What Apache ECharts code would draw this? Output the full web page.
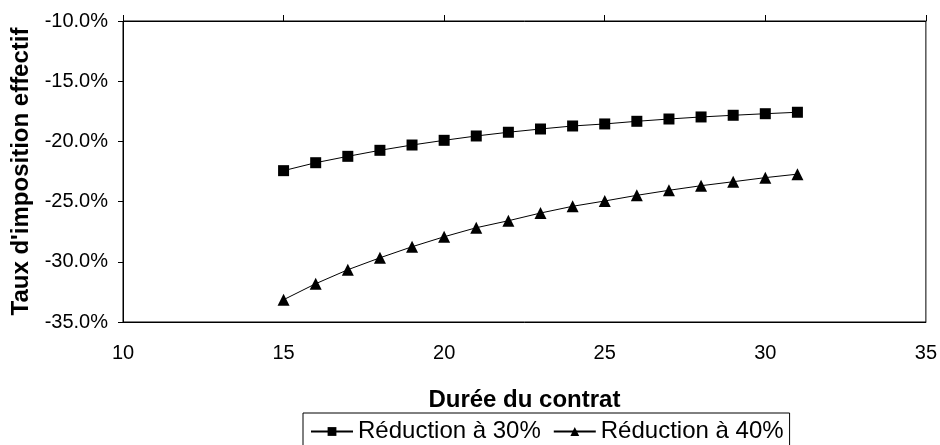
<!DOCTYPE html>
<html>
<head>
<meta charset="utf-8">
<script src="https://cdn.jsdelivr.net/npm/echarts@6/dist/echarts.min.js"></script>
<style>
  html, body { margin: 0; padding: 0; background: #fff; }
  #chart { width: 940px; height: 445px; }
</style>
</head>
<body>
<div id="chart"></div>
<script>
// Contract length (years)
const durees = [15, 16, 17, 18, 19, 20, 21, 22, 23, 24, 25, 26, 27, 28, 29, 30, 31];
// Effective tax rate, in percent
const reduction30 = [-22.43, -21.77, -21.24, -20.74, -20.30, -19.91, -19.55, -19.24, -18.97, -18.72, -18.55, -18.33, -18.14, -17.97, -17.83, -17.70, -17.58];
const reduction40 = [-33.15, -31.82, -30.66, -29.67, -28.75, -27.92, -27.17, -26.59, -25.95, -25.39, -24.95, -24.48, -24.06, -23.68, -23.35, -23.01, -22.72];
const xTicks = { min: 10, max: 35, step: 5 };
const yTicks = { min: -35, max: -10, step: 5 };

const FONT = '"Liberation Sans", Arial, sans-serif';
const pairs = (xs, ys) => xs.map((x, i) => [x, ys[i]]);

const chart = echarts.init(document.getElementById('chart'), null, { renderer: 'canvas' });
chart.setOption({
  animation: false,
  backgroundColor: '#fff',
  textStyle: { fontFamily: FONT, color: '#000' },
  grid: {
    left: 123, right: 4, top: 21, bottom: 123,
    show: true, borderColor: '#000', borderWidth: 1, backgroundColor: 'transparent'
  },
  legend: {
    left: 303, top: 413,
    orient: 'horizontal',
    borderColor: '#000', borderWidth: 1,
    padding: [6, 6, 10, 7],
    itemWidth: 42, itemHeight: 11, itemGap: 12,
    textStyle: { fontFamily: FONT, fontSize: 24, lineHeight: 25, color: '#000' },
    data: ['Réduction à 30%', 'Réduction à 40%']
  },
  xAxis: [
    {
      type: 'value', position: 'bottom',
      min: xTicks.min, max: xTicks.max, interval: xTicks.step,
      name: 'Durée du contrat', nameLocation: 'middle', nameGap: 66,
      nameTextStyle: { fontFamily: FONT, fontSize: 24, fontWeight: 'bold', color: '#000' },
      axisLine: { show: true, lineStyle: { color: '#000', width: 1 } },
      axisTick: { show: false },
      axisLabel: { fontFamily: FONT, fontSize: 20, color: '#000', margin: 21 },
      splitLine: { show: false }
    },
    {
      type: 'value', position: 'top',
      min: xTicks.min, max: xTicks.max, interval: xTicks.step,
      axisLine: { show: true, lineStyle: { color: '#000', width: 1 } },
      axisTick: { show: true, inside: false, length: 6, lineStyle: { color: '#000' } },
      axisLabel: { show: false },
      splitLine: { show: false }
    }
  ],
  yAxis: {
    type: 'value',
    min: yTicks.min, max: yTicks.max, interval: yTicks.step,
    name: "Taux d'imposition effectif", nameLocation: 'middle', nameGap: 86, nameRotate: 90,
    nameTextStyle: { fontFamily: FONT, fontSize: 24, fontWeight: 'bold', color: '#000' },
    axisLine: { show: true, lineStyle: { color: '#000', width: 1 } },
    axisTick: { show: true, inside: false, length: 5, lineStyle: { color: '#000' } },
    axisLabel: {
      fontFamily: FONT, fontSize: 20, color: '#000', margin: 15,
      formatter: v => v.toFixed(1) + '%'
    },
    splitLine: { show: false }
  },
  series: [
    {
      name: 'Réduction à 30%', type: 'line', xAxisIndex: 0,
      data: pairs(durees, reduction30),
      symbol: 'rect', symbolSize: 11,
      lineStyle: { color: '#000', width: 1 },
      itemStyle: { color: '#000' }
    },
    {
      name: 'Réduction à 40%', type: 'line', xAxisIndex: 0,
      data: pairs(durees, reduction40),
      symbol: 'triangle', symbolSize: 12,
      lineStyle: { color: '#000', width: 1 },
      itemStyle: { color: '#000' }
    }
  ]
});
</script>
</body>
</html>
